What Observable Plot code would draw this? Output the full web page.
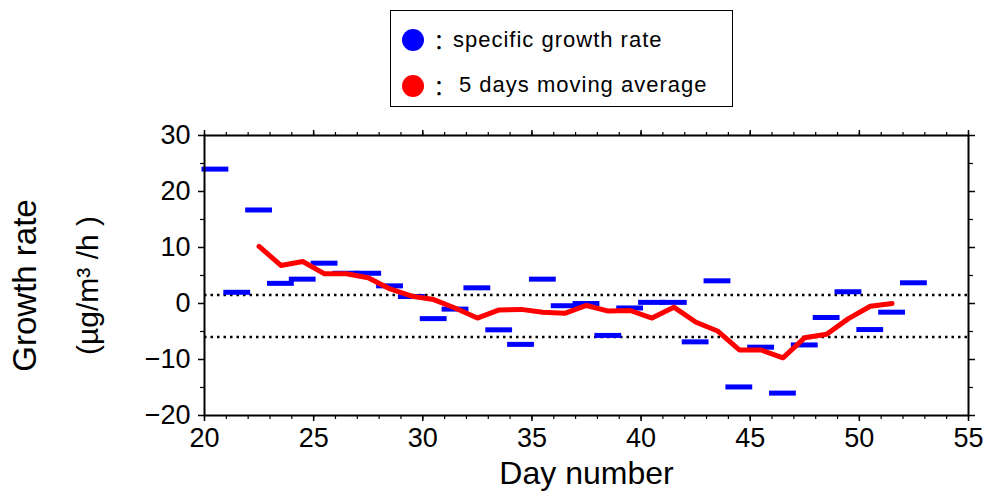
<!DOCTYPE html>
<html><head><meta charset="utf-8">
<script src="https://cdn.jsdelivr.net/npm/d3@7"></script>
<script src="https://cdn.jsdelivr.net/npm/@observablehq/plot@0.6"></script>
<style>
body{margin:0;background:#fff;font-family:"Liberation Sans",Arial,sans-serif;}
#wrap{position:relative;width:987px;height:497px;overflow:hidden;}
#chart{position:absolute;left:0;top:0;}
#legend{position:absolute;left:390px;top:10px;width:341px;height:95px;border:1.5px solid #000;background:#fff;}
.dot{position:absolute;width:22px;height:22px;border-radius:50%;}
.colon{position:absolute;font-family:"Noto Sans CJK JP",sans-serif;font-size:22px;line-height:22px;}
.lt{position:absolute;font-size:22px;line-height:22px;letter-spacing:1px;white-space:nowrap;color:#000;}
</style></head><body>
<div id="wrap">
  <div id="chart"></div>
  <div id="legend">
    <div class="dot" style="left:11px;top:18px;background:#0000ff"></div>
    <div class="colon" style="left:37px;top:18px">：</div>
    <div class="lt" style="left:62px;top:18px">specific growth rate</div>
    <div class="dot" style="left:11px;top:64px;background:#ff0000"></div>
    <div class="colon" style="left:37px;top:64px">：</div>
    <div class="lt" style="left:68px;top:63px">5 days moving average</div>
  </div>
</div>
<script>
// Specific growth rate, one value per day (bar spans the day)
const days = [20,21,22,23,24,25,26,27,28,29,30,31,32,33,34,35,36,37,38,39,40,41,42,43,44,45,46,47,48,49,50,51,52];
const growth = [24,2.0,16.7,3.6,4.35,7.2,5.4,5.4,3.15,1.25,-2.7,-1.0,2.8,-4.7,-7.3,4.35,-0.4,0.0,-5.7,-0.8,0.2,0.2,-6.85,4.05,-14.9,-7.8,-16.0,-7.4,-2.5,2.1,-4.65,-1.55,3.7];
// 5 days moving average
const maDays = [22.5,23.5,24.5,25.5,26.5,27.5,28.5,29.5,30.5,31.5,32.5,33.5,34.5,35.5,36.5,37.5,38.5,39.5,40.5,41.5,42.5,43.5,44.5,45.5,46.5,47.5,48.5,49.5,50.5,51.5];
const maValues = [10.2,6.8,7.5,5.3,5.3,4.6,2.6,1.3,0.7,-0.85,-2.6,-1.15,-1.05,-1.55,-1.75,-0.35,-1.35,-1.25,-2.6,-0.65,-3.3,-4.9,-8.3,-8.3,-9.7,-6.1,-5.5,-2.7,-0.5,0.0];
const thresholds = [1.5, -6];
const xMajor = [20,25,30,35,40,45,50,55];
const xMinor = [20,21,22,23,24,25,26,27,28,29,30,31,32,33,34,35,36,37,38,39,40,41,42,43,44,45,46,47,48,49,50,51,52,53,54,55];
const yMajor = [-20,-10,0,10,20,30];
const yMinor = [-15,-5,5,15,25];
const xTitle = "Day number";
const yTitle1 = "Growth rate";
const yTitle2 = "(µg/m³ /h )";

const bars = days.map((d, i) => ({day: d, rate: growth[i]}));
const ma = maDays.map((d, i) => ({day: d, value: maValues[i]}));

const font = "Liberation Sans, Arial, sans-serif";
const chart = Plot.plot({
  width: 987, height: 497,
  marginLeft: 204, marginRight: 19, marginTop: 135, marginBottom: 82,
  style: {fontFamily: font, background: "white", color: "black"},
  x: {domain: [20, 55]},
  y: {domain: [-20, 30]},
  marks: [
    Plot.ruleY(thresholds, {stroke: "black", strokeWidth: 2.5, strokeDasharray: "2.5,4"}),
    Plot.ruleY(bars, {x1: "day", x2: d => d.day + 1, y: "rate", stroke: "#0000ff", strokeWidth: 5, strokeLinecap: "square"}),
    Plot.line(ma, {x: "day", y: "value", stroke: "#ff0000", strokeWidth: 5, strokeLinejoin: "round"}),
    Plot.frame({stroke: "black", strokeWidth: 2}),
    Plot.axisX({anchor: "bottom", ticks: xMajor, tickSize: 6, tickPadding: 6, fontSize: 27, strokeWidth: 1.5, label: null}),
    Plot.axisX({anchor: "bottom", ticks: xMinor, tickSize: 4, text: null, strokeWidth: 1.2, label: null}),
    Plot.axisX({anchor: "top", ticks: xMajor, tickSize: 6, text: null, strokeWidth: 1.5, label: null}),
    Plot.axisX({anchor: "top", ticks: xMinor, tickSize: 4, text: null, strokeWidth: 1.2, label: null}),
    Plot.axisY({anchor: "left", ticks: yMajor, tickSize: 6, tickPadding: 8, fontSize: 27, strokeWidth: 1.5, label: null}),
    Plot.axisY({anchor: "left", ticks: yMinor, tickSize: 4, text: null, strokeWidth: 1.2, label: null}),
    Plot.axisY({anchor: "right", ticks: yMajor, tickSize: 6, text: null, strokeWidth: 1.5, label: null}),
    Plot.axisY({anchor: "right", ticks: yMinor, tickSize: 4, text: null, strokeWidth: 1.2, label: null}),
    Plot.text([xTitle], {frameAnchor: "bottom", dy: 58, fontSize: 32, textAnchor: "middle", lineAnchor: "middle", text: d => d}),
    Plot.text([yTitle1], {frameAnchor: "left", dx: -179, dy: 10, rotate: -90, fontSize: 33, textAnchor: "middle", lineAnchor: "middle", text: d => d}),
    Plot.text([yTitle2], {frameAnchor: "left", dx: -116, dy: 10, rotate: -90, fontSize: 30, textAnchor: "middle", lineAnchor: "middle", text: d => d})
  ]
});
document.getElementById("chart").appendChild(chart);
</script>
</body></html>
